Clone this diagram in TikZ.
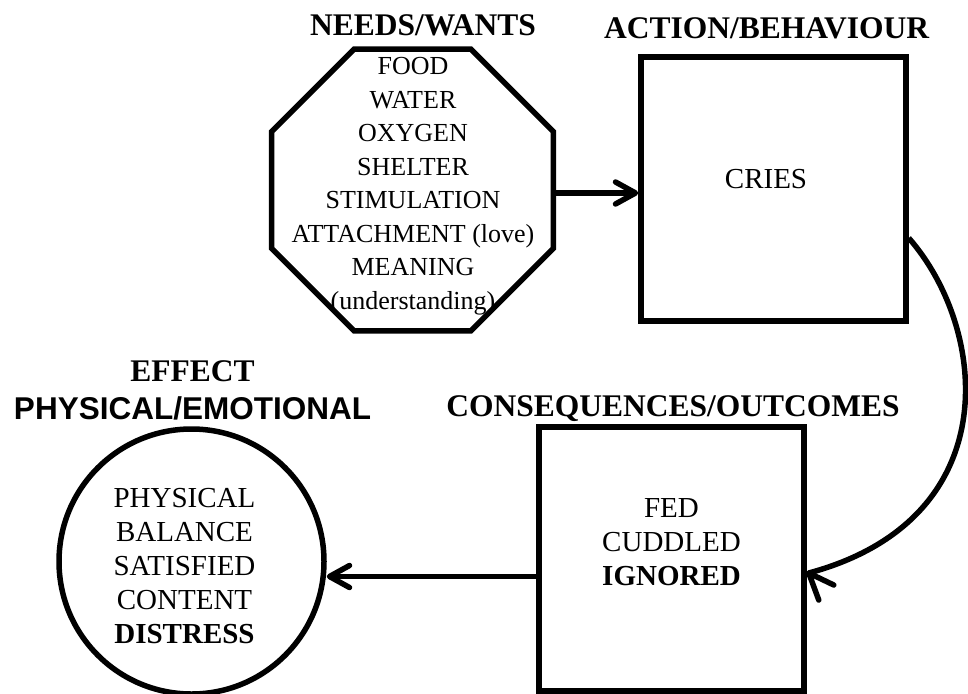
\documentclass[tikz,border=0pt]{standalone}
\usepackage{fontspec}
\setmainfont{Liberation Serif}
\newfontfamily\arialfont{Liberation Sans}
\usetikzlibrary{shapes.geometric,arrows.meta}

\begin{document}
\begin{tikzpicture}[x=1pt,y=1pt,
  outline/.style={draw=black, line width=5.5pt, inner sep=0pt},
  heading/.style={font=\fontsize{31.5}{38}\selectfont\bfseries, anchor=base, inner sep=0pt},
  bodytext/.style={font=\fontsize{29}{34}\selectfont, align=center, inner sep=0pt},
  listtext/.style={font=\fontsize{26}{33.5}\selectfont, align=center, inner sep=0pt},
  flow/.style={line width=5.5pt, -{Straight Barb[length=20pt,width=22pt,round]}},
  barb/.style={line width=5.5pt, line cap=round, line join=round}
]
\useasboundingbox (0,0) rectangle (968,-693);

% the four stages
\node[outline, regular polygon, regular polygon sides=8, minimum size=305pt] (needs) at (412.5,-190) {};
\node[outline, rectangle, minimum width=265pt, minimum height=264pt] (act) at (773.5,-189) {};
\node[outline, rectangle, minimum width=265pt, minimum height=264pt] (cons) at (671.5,-559) {};
\node[outline, circle, minimum size=265pt] (eff) at (191.5,-561.5) {};

% stage titles
\node[heading] (needshead) at (423,-36) {NEEDS/WANTS};
\node[heading] (acthead) at (766.5,-38.5) {ACTION/BEHAVIOUR};
\node[heading] (conshead) at (673,-416) {CONSEQUENCES/OUTCOMES};
\node[heading] (effhead) at (192.5,-381) {EFFECT};
\node[heading, font=\fontsize{31.5}{38}\selectfont\arialfont\bfseries] (effsub) at (192.5,-419) {PHYSICAL/EMOTIONAL};

% stage contents
\node[listtext, anchor=north] (needslist) at (413,-57.5)
  {FOOD\\WATER\\OXYGEN\\SHELTER\\STIMULATION\\ATTACHMENT (love)\\MEANING\\(understanding)};
\node[bodytext, anchor=base] (actlist) at (766,-188) {CRIES};
\node[bodytext, anchor=north] (conslist) at (671.5,-498) {FED\\CUDDLED\\\textbf{IGNORED}};
\node[bodytext, anchor=north] (efflist) at (184.5,-488)
  {PHYSICAL\\BALANCE\\SATISFIED\\CONTENT\\\textbf{DISTRESS}};

% connectors
\coordinate (a1) at ([yshift=-3pt]needs.east);
\draw[flow] (a1) -- (a1 -| act.west);

\coordinate (c1) at ([yshift=-17.5pt]cons.west);
\draw[flow] (c1) -- (c1 -| eff.east);

\coordinate (b0) at ([yshift=-49pt]act.east);
\coordinate (b1) at ([shift={(2pt,-14pt)}]cons.east);
\draw[line width=5.5pt] (b0) .. controls +(79,-90) and +(200,54) .. (b1);
\draw[barb] ([shift={(25pt,-12pt)}]b1) -- (b1) -- ([shift={(10pt,-27pt)}]b1);
\end{tikzpicture}
\end{document}
